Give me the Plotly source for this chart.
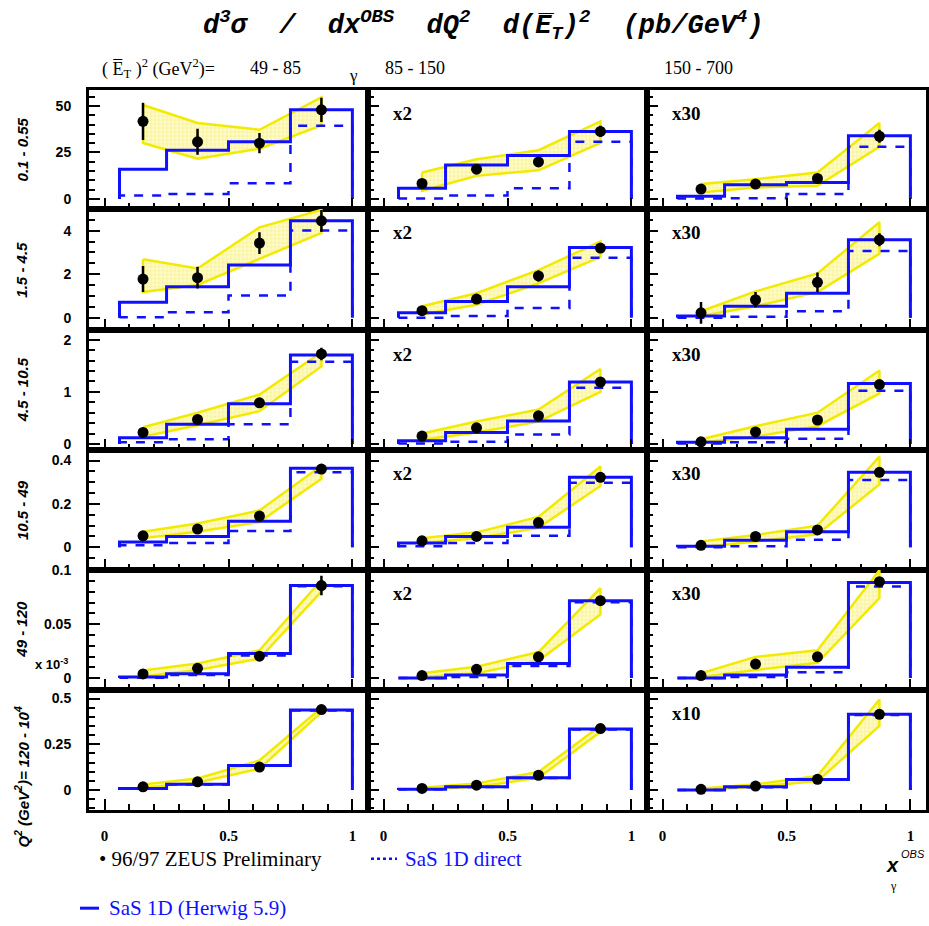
import plotly.graph_objects as go

W, H = 929, 926

# ---------------- data ----------------
bin_edges = [0.06, 0.25, 0.5, 0.75, 1.0]
x_points = [0.155, 0.375, 0.625, 0.875]

row_labels = ["0.1 - 0.55", "1.5 - 4.5", "4.5 - 10.5", "10.5 - 49", "49 - 120",
              "Q<sup>2</sup> (GeV<sup>2</sup>)= 120 - 10<sup>4</sup>"]
col_prefix = "(\u00a0E\u0305<sub>T</sub>\u00a0)<sup>2</sup> (GeV<sup>2</sup>)="
col_labels = ["49 - 85", "85 - 150", "150 - 700"]
scale_labels = [["", "x2", "x30"], ["", "x2", "x30"], ["", "x2", "x30"],
                ["", "x2", "x30"], ["", "x2", "x30"], ["", "", "x10"]]

# measured points [row][col]
data_vals = [
    [[41.7, 30.7, 30.0, 47.9], [8.3, 16.0, 19.9, 36.3], [5.3, 8.0, 11.0, 33.7]],
    [[1.78, 1.84, 3.43, 4.45], [0.33, 0.86, 1.92, 3.2], [0.23, 0.83, 1.63, 3.58]],
    [[0.22, 0.47, 0.79, 1.73], [0.15, 0.31, 0.54, 1.19], [0.04, 0.23, 0.46, 1.14]],
    [[0.053, 0.084, 0.144, 0.361], [0.03, 0.05, 0.114, 0.323], [0.009, 0.05, 0.08, 0.346]],
    [[0.0039, 0.0091, 0.0203, 0.0858], [0.0024, 0.0082, 0.0197, 0.0718], [0.0024, 0.013, 0.0197, 0.0894]],
    [[0.018, 0.045, 0.126, 0.44], [0.009, 0.027, 0.081, 0.336], [0.004, 0.022, 0.059, 0.414]],
]
data_errs = [
    [[10.0, 7.0, 5.5, 6.5], [1.5, 1.5, 1.5, 3.0], [2.0, 1.0, 1.5, 3.5]],
    [[0.6, 0.5, 0.5, 0.5], [0.1, 0.15, 0.25, 0.15], [0.5, 0.35, 0.45, 0.3]],
    [[0.03, 0.05, 0.05, 0.12], [0.02, 0.03, 0.04, 0.06], [0.02, 0.03, 0.04, 0.06]],
    [[0.005, 0.01, 0.01, 0.02], [0.004, 0.006, 0.01, 0.015], [0.004, 0.006, 0.01, 0.015]],
    [[0.001, 0.0015, 0.002, 0.009], [0.0008, 0.001, 0.0015, 0.004], [0.0008, 0.0015, 0.002, 0.004]],
    [[0.004, 0.006, 0.01, 0.015], [0.003, 0.004, 0.006, 0.01], [0.003, 0.004, 0.006, 0.015]],
]
# SaS 1D (Herwig 5.9) full histogram
mc_full = [
    [[16.0, 26.2, 30.7, 47.9], [5.7, 18.3, 23.4, 36.2], [1.4, 7.6, 8.9, 34.0]],
    [[0.71, 1.43, 2.42, 4.45], [0.23, 0.75, 1.43, 3.22], [0.08, 0.53, 1.13, 3.58]],
    [[0.12, 0.38, 0.77, 1.71], [0.06, 0.22, 0.44, 1.19], [0.03, 0.12, 0.28, 1.16]],
    [[0.024, 0.05, 0.12, 0.365], [0.02, 0.05, 0.092, 0.323], [0.005, 0.032, 0.072, 0.346]],
    [[0.001, 0.004, 0.0227, 0.0858], [0.0, 0.003, 0.0136, 0.0718], [0.0, 0.003, 0.01, 0.0885]],
    [[0.009, 0.032, 0.135, 0.437], [0.005, 0.018, 0.068, 0.333], [0.0, 0.018, 0.058, 0.414]],
]
# SaS 1D direct histogram
mc_direct = [
    [[1.8, 2.7, 8.5, 39.4], [0.2, 1.8, 5.7, 30.7], [0.2, 0.4, 2.7, 28.0]],
    [[0.03, 0.26, 1.03, 4.0], [0.0, 0.08, 0.45, 2.75], [0.0, 0.05, 0.3, 3.07]],
    [[0.03, 0.09, 0.38, 1.58], [0.01, 0.04, 0.18, 1.08], [0.01, 0.03, 0.1, 1.02]],
    [[0.009, 0.02, 0.075, 0.346], [0.005, 0.02, 0.053, 0.298], [0.0, 0.005, 0.035, 0.31]],
    [[0.0003, 0.003, 0.021, 0.0852], [0.0, 0.001, 0.0112, 0.0703], [0.0, 0.001, 0.0055, 0.0848]],
    [[0.007, 0.03, 0.133, 0.435], [0.004, 0.017, 0.066, 0.331], [0.0, 0.016, 0.056, 0.41]],
]
# systematic band (upper / lower)
band_hi = [
    [[50.5, 40.8, 37.2, 54.6], [14.2, 21.3, 26.2, 41.7], [8.0, 10.6, 14.2, 40.8]],
    [[2.69, 2.26, 4.15, 4.95], [0.53, 1.13, 2.19, 3.5], [0.3, 1.21, 2.04, 4.38]],
    [[0.32, 0.6, 0.95, 1.76], [0.2, 0.43, 0.66, 1.44], [0.09, 0.34, 0.6, 1.41]],
    [[0.072, 0.11, 0.17, 0.376], [0.042, 0.069, 0.14, 0.373], [0.027, 0.057, 0.1, 0.418]],
    [[0.007, 0.0136, 0.0258, 0.0909], [0.0045, 0.0106, 0.0242, 0.0833], [0.0045, 0.0197, 0.0258, 0.1]],
    [[0.031, 0.063, 0.162, 0.45], [0.013, 0.036, 0.099, 0.351], [0.009, 0.031, 0.077, 0.495]],
]
band_lo = [
    [[30.1, 21.6, 27.0, 39.5], [4.4, 12.4, 15.4, 30.1], [3.5, 6.2, 7.1, 28.0]],
    [[1.18, 1.51, 2.72, 3.9], [0.15, 0.6, 1.58, 2.79], [0.08, 0.53, 1.18, 2.94]],
    [[0.14, 0.36, 0.63, 1.49], [0.08, 0.22, 0.43, 1.0], [0.03, 0.14, 0.34, 0.97]],
    [[0.042, 0.072, 0.117, 0.316], [0.02, 0.042, 0.09, 0.283], [0.0, 0.027, 0.06, 0.29]],
    [[0.0015, 0.0076, 0.018, 0.0803], [0.001, 0.0045, 0.016, 0.059], [0.001, 0.0076, 0.0142, 0.0742]],
    [[0.013, 0.041, 0.117, 0.426], [0.004, 0.018, 0.067, 0.318], [0.0, 0.018, 0.049, 0.351]],
]

# axis ticks per row
y_ranges = [[-5.3, 58.5], [-0.58, 5.0], [-0.12, 2.18], [-0.104, 0.448], [-0.0106, 0.1003], [-0.11, 0.549]]
y_tickvals = [[0, 25, 50], [0, 2, 4], [0, 1, 2], [0, 0.2, 0.4], [0, 0.05, 0.1], [0, 0.25, 0.5]]
y_ticktext = [["0", "25", "50"], ["0", "2", "4"], ["0", "1", "2"], ["0", "0.2", "0.4"],
              ["0", "0.05", "0.1"], ["0", "0.25", "0.5"]]
y_minor = [5, 0.5, 0.2, 0.05, 0.01, 0.05]
x_tickvals = [0, 0.5, 1]
x_ticktext = ["0", "0.5", "1"]

# ---------------- layout geometry (pixels) ----------------
col_px = [89, 368, 647, 926]
row_px = [83, 203, 326, 447, 568, 689, 811]

def pxx(x):
    return x / W

def pyy(y):
    return 1 - y / H

BLUE = "#1010ff"
YEL = "#f2ea00"

fig = go.Figure()
layout = {}
annotations = []
shapes = []

for r in range(6):
    for c in range(3):
        i = r * 3 + c + 1
        xa = "x" if i == 1 else f"x{i}"
        ya = "y" if i == 1 else f"y{i}"
        xkey = "xaxis" if i == 1 else f"xaxis{i}"
        ykey = "yaxis" if i == 1 else f"yaxis{i}"

        # band
        bx = x_points + x_points[::-1] + [x_points[0]]
        by = band_hi[r][c] + band_lo[r][c][::-1] + [band_hi[r][c][0]]
        fig.add_trace(go.Scatter(
            x=bx, y=by, xaxis=xa, yaxis=ya, mode="lines", fill="toself",
            line=dict(color=YEL, width=2.5),
            fillcolor="rgba(255,250,170,0.9)",
            fillpattern=dict(shape="+", size=4, solidity=0.25, fgcolor="#e6dc30", bgcolor="#fffbc8"),
            hoverinfo="skip", showlegend=False))

        # histograms
        for vals, dash, wd in ((mc_direct[r][c], "dash", 2.5), (mc_full[r][c], "solid", 3)):
            hx = [bin_edges[0], bin_edges[0]] + bin_edges[1:] + [bin_edges[-1]]
            hy = [0, vals[0]] + vals[1:] + [vals[-1], 0]
            fig.add_trace(go.Scatter(
                x=hx, y=hy, xaxis=xa, yaxis=ya, mode="lines", line_shape="hv",
                line=dict(color=BLUE, width=wd, dash=dash), showlegend=False))

        # data points
        fig.add_trace(go.Scatter(
            x=x_points, y=data_vals[r][c], xaxis=xa, yaxis=ya, mode="markers",
            marker=dict(color="black", size=11),
            error_y=dict(type="data", array=data_errs[r][c], color="black", thickness=2.5, width=0),
            showlegend=False))

        layout[xkey] = dict(
            domain=[pxx(col_px[c]), pxx(col_px[c + 1])], anchor=ya,
            range=[-0.063, 1.063], tickmode="array", tickvals=x_tickvals, ticktext=x_ticktext,
            ticks="inside", ticklen=11, tickwidth=1.5, tickcolor="black",
            minor=dict(tickmode="linear", tick0=0, dtick=0.1, ticks="inside", ticklen=6,
                       tickwidth=1.5, tickcolor="black"),
            showticklabels=(r == 5), ticklabelstandoff=10,
            tickfont=dict(family="Liberation Serif", size=15, color="black", weight="bold"),
            showline=True, mirror=True, linewidth=3, linecolor="black",
            showgrid=False, zeroline=False, fixedrange=True)
        layout[ykey] = dict(
            domain=[pyy(row_px[r + 1]), pyy(row_px[r])], anchor=xa,
            range=y_ranges[r], tickmode="array", tickvals=y_tickvals[r], ticktext=y_ticktext[r],
            ticks="inside", ticklen=11, tickwidth=1.5, tickcolor="black",
            minor=dict(tickmode="linear", tick0=0, dtick=y_minor[r], ticks="inside", ticklen=6,
                       tickwidth=1.5, tickcolor="black"),
            showticklabels=(c == 0), ticklabelstandoff=12,
            tickfont=dict(family="Liberation Sans", size=14, color="black", weight="bold"),
            showline=True, mirror=True, linewidth=3, linecolor="black",
            showgrid=False, zeroline=False, fixedrange=True)

        if scale_labels[r][c]:
            annotations.append(dict(
                text=scale_labels[r][c], xref="paper", yref="paper",
                x=pxx(col_px[c] + 23), y=pyy(row_px[r] + 24), xanchor="left", yanchor="middle",
                showarrow=False, font=dict(family="Liberation Serif", size=19, color="black", weight="bold")))

    # row labels
    if r < 5:
        cy = (row_px[r] + row_px[r + 1]) / 2
    else:
        cy = 777
    annotations.append(dict(
        text=f"<i>{row_labels[r]}</i>", xref="paper", yref="paper", x=pxx(22), y=pyy(cy),
        xanchor="center", yanchor="middle", textangle=-90, showarrow=False,
        font=dict(family="Liberation Sans", size=15, color="black", weight="bold")))

# title
annotations.append(dict(
    text="<i>d<sup>3</sup>σ  /  dx<sup>OBS</sup>  dQ<sup>2</sup>  d(E\u0305<sub>T</sub>)<sup>2</sup>  (pb/GeV<sup>4</sup>)</i>",
    xref="paper", yref="paper", x=pxx(483), y=pyy(18), xanchor="center", yanchor="middle",
    showarrow=False, font=dict(family="Liberation Mono", size=27, color="black", weight="bold")))
annotations.append(dict(text="γ", xref="paper", yref="paper", x=pxx(353), y=pyy(68),
                        xanchor="center", yanchor="middle", showarrow=False,
                        font=dict(family="Liberation Serif", size=17, color="black")))
# column headers
annotations.append(dict(
    text=col_prefix, xref="paper", yref="paper", x=pxx(100), y=pyy(61),
    xanchor="left", yanchor="middle", showarrow=False,
    font=dict(family="Liberation Serif", size=18, color="black")))
col_hdr_x = [248, 383, 662]
for c in range(3):
    annotations.append(dict(
        text=col_labels[c], xref="paper", yref="paper", x=pxx(col_hdr_x[c]), y=pyy(61),
        xanchor="left", yanchor="middle", showarrow=False,
        font=dict(family="Liberation Serif", size=18, color="black")))

# x-axis label
annotations.append(dict(text="<b><i>x</i></b>", xref="paper", yref="paper", x=pxx(892), y=pyy(866),
                        xanchor="center", yanchor="middle", showarrow=False,
                        font=dict(family="Liberation Sans", size=20, color="black")))
annotations.append(dict(text="<i>OBS</i>", xref="paper", yref="paper", x=pxx(899), y=pyy(855),
                        xanchor="left", yanchor="middle", showarrow=False,
                        font=dict(family="Liberation Sans", size=11, color="black")))
annotations.append(dict(text="γ", xref="paper", yref="paper", x=pxx(893), y=pyy(888),
                        xanchor="center", yanchor="middle", showarrow=False,
                        font=dict(family="Liberation Serif", size=12, color="black")))

# legend (drawn as text + sample lines)
annotations.append(dict(text="• 96/97 ZEUS Preliminary", xref="paper", yref="paper",
                        x=pxx(97), y=pyy(860), xanchor="left", yanchor="middle", showarrow=False,
                        font=dict(family="Liberation Serif", size=21, color="black")))
annotations.append(dict(text="SaS 1D direct", xref="paper", yref="paper",
                        x=pxx(403), y=pyy(860), xanchor="left", yanchor="middle", showarrow=False,
                        font=dict(family="Liberation Serif", size=21, color=BLUE)))
annotations.append(dict(text="SaS 1D (Herwig 5.9)", xref="paper", yref="paper",
                        x=pxx(107), y=pyy(910), xanchor="left", yanchor="middle", showarrow=False,
                        font=dict(family="Liberation Serif", size=21, color=BLUE)))
shapes.append(dict(type="line", xref="paper", yref="paper", x0=pxx(371), x1=pxx(397),
                   y0=pyy(860), y1=pyy(860), line=dict(color=BLUE, width=2.5, dash="dot")))
shapes.append(dict(type="line", xref="paper", yref="paper", x0=pxx(80), x1=pxx(99),
                   y0=pyy(910), y1=pyy(910), line=dict(color=BLUE, width=3)))

# x 10^-3 label
annotations.append(dict(text="x 10<sup>-3</sup>", xref="paper", yref="paper", x=pxx(33), y=pyy(663),
                        xanchor="left", yanchor="middle", showarrow=False,
                        font=dict(family="Liberation Sans", size=13, color="black", weight="bold")))

fig.update_layout(
    width=W, height=H, margin=dict(l=0, r=0, t=0, b=0),
    paper_bgcolor="white", plot_bgcolor="white",
    showlegend=False, annotations=annotations, shapes=shapes, **layout)

fig.write_html("out.html")
